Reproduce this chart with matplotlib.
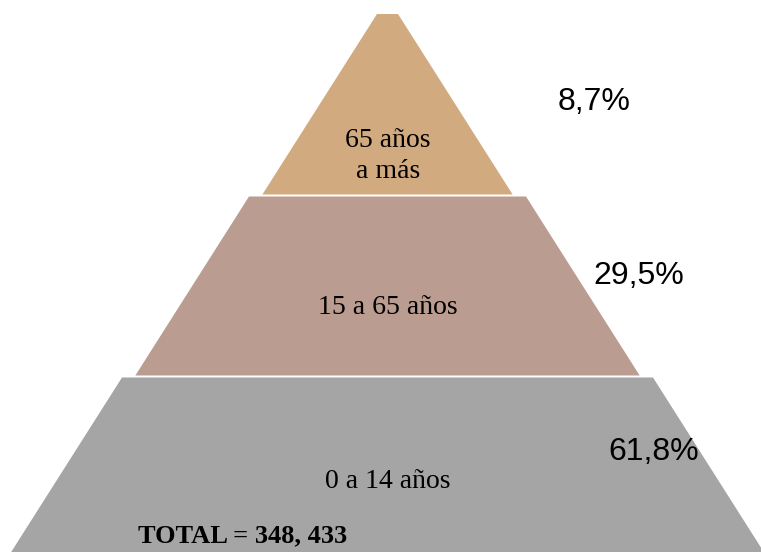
import matplotlib
matplotlib.use("Agg")
import matplotlib.pyplot as plt
from matplotlib.patches import Polygon

# Data
groups = ["65 años\na más", "15 a 65 años", "0 a 14 años"]
percent_labels = ["8,7%", "29,5%", "61,8%"]
colors = ["#D2AA80", "#BB9C90", "#A5A5A5"]
total_label = "TOTAL = 348, 433"

# Layout (pixel coordinates)
W, H = 761, 552
cx = 387.5
slope = 0.635
# (y_top, y_bottom, half width at top)
tiers = [(14, 194.5, 10.5), (196.5, 375.5, 138.5), (377.5, 560, 265.5)]
label_pos = [(388, 156), (388, 308), (388, 482)]
pct_pos = [(594, 102), (639, 276), (654, 452)]

fig = plt.figure(figsize=(W / 100, H / 100), dpi=100)
ax = fig.add_axes([0, 0, 1, 1])
ax.set_xlim(0, W)
ax.set_ylim(H, 0)
ax.axis("off")

for i, (y0, y1, h0) in enumerate(tiers):
    h1 = h0 + (y1 - y0) * slope
    poly = Polygon([(cx - h0, y0), (cx + h0, y0), (cx + h1, y1), (cx - h1, y1)],
                   closed=True, facecolor=colors[i], edgecolor="none")
    ax.add_patch(poly)
    ax.text(label_pos[i][0], label_pos[i][1], groups[i], ha="center", va="center",
            fontsize=20, family="Liberation Serif", linespacing=1.32)
    ax.text(pct_pos[i][0], pct_pos[i][1], percent_labels[i], ha="center", va="center",
            fontsize=23, family="Liberation Sans")

ax.text(243, 536, total_label, ha="center", va="center", fontsize=19,
        family="Liberation Serif", fontweight="bold")

fig.savefig("out.png", dpi=100)
